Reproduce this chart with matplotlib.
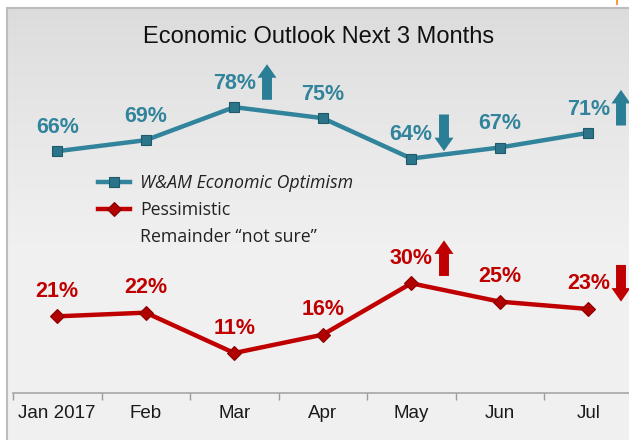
import numpy as np
import matplotlib
matplotlib.use("Agg")
import matplotlib.pyplot as plt
from matplotlib.lines import Line2D

months = ["Jan 2017", "Feb", "Mar", "Apr", "May", "Jun", "Jul"]
optimism = [66, 69, 78, 75, 64, 67, 71]
pessimism = [21, 22, 11, 16, 30, 25, 23]

# trend arrows: (series, month index, direction)
arrows = [("opt", 2, "up"), ("opt", 4, "down"), ("opt", 6, "up"),
          ("pes", 4, "up"), ("pes", 6, "down")]

blue = "#31849b"
red = "#c00000"
plt.rcParams["font.family"] = ["Liberation Sans", "DejaVu Sans"]

fig = plt.figure(figsize=(6.29, 4.40), dpi=100)
W, H = 629, 440

# panel background with soft vertical gradient
bg = fig.add_axes([7 / W, -0.05, 1, (H - 8) / H + 0.05])
g = np.linspace(0, 1, 256)
shade = 0.86 + 0.085 * np.clip(g / 0.55, 0, 1) ** 0.8
bg.imshow(np.dstack([shade] * 3).reshape(256, 1, 3), aspect="auto",
          extent=[0, 1, 1, 0])
bg.set_xlim(0, 1)
bg.set_ylim(1, 0)
bg.set_xticks([])
bg.set_yticks([])
for k, s in bg.spines.items():
    s.set_color("#bdbdbd")
    s.set_linewidth(1.5)
    if k in ("right", "bottom"):
        s.set_visible(False)

# small orange mark at top right
fig.add_artist(Line2D([617 / W, 617 / W], [1, 1 - 4 / H], color="#f5a040", lw=1.5))

ax = fig.add_axes([13 / W, (H - 393.4) / H, 619.5 / W, 367 / H])
ax.set_facecolor("none")
x = np.arange(len(months))

l1, = ax.plot(x, optimism, color=blue, lw=3.2, marker="s", ms=7,
              mfc="#2b7489", mec="#1f5a6b", mew=0.8,
              label="W&AM Economic Optimism")
l2, = ax.plot(x, pessimism, color=red, lw=3.2, marker="D", ms=7,
              mfc="#b00000", mec="#8a0000", mew=0.8, label="Pessimistic")

for xi, v in zip(x, optimism):
    ax.annotate(f"{v}%", (xi, v), xytext=(0, 17), textcoords="offset points",
                ha="center", va="center", color=blue, fontsize=15.5,
                fontweight="bold")
for xi, v in zip(x, pessimism):
    ax.annotate(f"{v}%", (xi, v), xytext=(0, 18), textcoords="offset points",
                ha="center", va="center", color=red, fontsize=15.5,
                fontweight="bold")

for series, i, d in arrows:
    v = optimism[i] if series == "opt" else pessimism[i]
    c = "#2a7e95" if series == "opt" else "#c00000"
    if d == "up":
        y0, y1 = v + 2, v + 11.7
    else:
        y0, y1 = v + 12, v + 2
    ax.annotate("", xy=(i + 0.37, y1), xytext=(i + 0.37, y0),
                arrowprops=dict(arrowstyle="simple,head_length=0.75,head_width=1.05,tail_width=0.55",
                                mutation_scale=13, fc=c, ec="none",
                                shrinkA=0, shrinkB=0))

ax.set_xlim(-0.5, len(months) - 0.5)
ax.set_ylim(0, 100)
ax.set_xticks(x)
ax.set_xticklabels(months, fontsize=13.5, color="#1a1a1a")
ax.set_xticks(np.arange(-0.5, len(months), 1), minor=True)
ax.tick_params(axis="x", which="major", length=0, pad=8)
ax.tick_params(axis="x", which="minor", length=5, color="#9a9a9a", width=1)
ax.set_yticks([])
for k in ["left", "right", "top"]:
    ax.spines[k].set_visible(False)
ax.spines["bottom"].set_color("#a6a6a6")
ax.spines["bottom"].set_linewidth(1.2)

fig.text(319 / W, 1 - 37 / H, "Economic Outlook Next 3 Months",
         ha="center", va="center", fontsize=17, color="#111111")

blank = Line2D([], [], color="none")
leg = fig.legend([l1, l2, blank], ["W&AM Economic Optimism", "Pessimistic",
                                   "Remainder \u201cnot sure\u201d"],
                 loc="upper left", bbox_to_anchor=(82 / W, 1 - 158 / H),
                 frameon=False, handlelength=1.8,
                 handletextpad=0.55, labelspacing=0.5,
                 prop={"family": "Open Sans", "size": 12.8})
for t in leg.get_texts():
    t.set_color("#222222")
leg.get_texts()[0].set_style("italic")

fig.savefig("out.png", dpi=100)
